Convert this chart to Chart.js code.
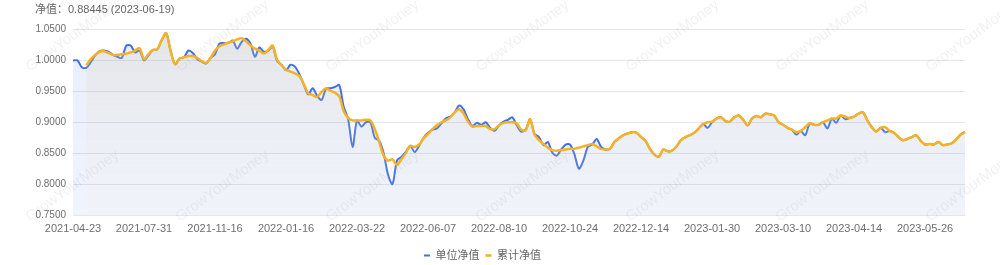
<!DOCTYPE html>
<html>
<head>
<meta charset="utf-8">
<script src="https://cdn.jsdelivr.net/npm/chart.js@4.4.1/dist/chart.umd.min.js"></script>
<style>
  body { margin: 0; background: #fff; }
  #wrap { position: relative; width: 1000px; height: 265px; }
  #title { position: absolute; left: 35px; top: 0; font: 11px 'Liberation Sans', 'Noto Sans CJK SC', sans-serif; line-height: 18px; color: #666; }
</style>
</head>
<body>
<div id="wrap">
  <canvas id="navChart"></canvas>
  <div id="title">净值：0.88445 (2023-06-19)</div>
</div>
<script>
// x axis tick labels, one every 16 points
const tickLabels = ['2021-04-23', '2021-07-31', '2021-11-16', '2022-01-16', '2022-03-22', '2022-06-07',
  '2022-08-10', '2022-10-24', '2022-12-14', '2023-01-30', '2023-03-10', '2023-04-14', '2023-05-26'];
const tickStep = 16;

// 单位净值
const unitNav = [
  1.000, 1.000, 0.989, 0.988, 0.997, 1.008, 1.015, 1.016, 1.014, 1.009,
  1.006, 1.004, 1.024, 1.024, 1.013, 1.016, 1.000, 1.008, 1.017, 1.018,
  1.033, 1.044, 1.015, 0.994, 1.003, 1.005, 1.016, 1.012, 1.002, 0.998,
  0.995, 1.004, 1.010, 1.027, 1.028, 1.028, 1.032, 1.019, 1.030, 1.035,
  1.027, 1.006, 1.021, 1.014, 1.016, 1.022, 0.999, 0.993, 0.984, 0.993,
  0.990, 0.978, 0.961, 0.945, 0.955, 0.943, 0.936, 0.954, 0.955, 0.957,
  0.960, 0.925, 0.905, 0.860, 0.903, 0.893, 0.900, 0.900, 0.875, 0.870,
  0.850, 0.815, 0.800, 0.838, 0.844, 0.852, 0.862, 0.852, 0.862, 0.875,
  0.883, 0.888, 0.890, 0.898, 0.906, 0.909, 0.916, 0.927, 0.921, 0.905,
  0.894, 0.899, 0.896, 0.900, 0.891, 0.886, 0.895, 0.901, 0.904, 0.908,
  0.895, 0.885, 0.888, 0.905, 0.881, 0.876, 0.863, 0.868, 0.851, 0.846,
  0.856, 0.864, 0.864, 0.848, 0.825, 0.838, 0.860, 0.864, 0.873, 0.860,
  0.856, 0.857, 0.868, 0.874, 0.879, 0.882, 0.884, 0.883, 0.876, 0.870,
  0.857, 0.848, 0.844, 0.856, 0.853, 0.854, 0.861, 0.871, 0.876, 0.879,
  0.883, 0.890, 0.897, 0.891, 0.900, 0.906, 0.908, 0.902, 0.901, 0.908,
  0.911, 0.904, 0.895, 0.906, 0.910, 0.908, 0.914, 0.913, 0.911, 0.900,
  0.896, 0.891, 0.888, 0.880, 0.886, 0.879, 0.898, 0.896, 0.896, 0.900,
  0.890, 0.906, 0.899, 0.911, 0.905, 0.907, 0.909, 0.914, 0.916, 0.903,
  0.892, 0.885, 0.891, 0.884, 0.886, 0.883, 0.876, 0.871, 0.873, 0.876,
  0.879, 0.870, 0.864, 0.865, 0.864, 0.868, 0.863, 0.864, 0.866, 0.872,
  0.880, 0.884
];

// 累计净值
const accNav = [
  null, null, null, 0.992, 1.002, 1.009, 1.014, 1.015, 1.012, 1.009,
  1.009, 1.010, 1.011, 1.013, 1.016, 1.020, 1.002, 1.010, 1.017, 1.018,
  1.033, 1.044, 1.015, 0.994, 1.003, 1.005, 1.007, 1.007, 1.004, 0.999,
  0.996, 1.004, 1.016, 1.023, 1.026, 1.029, 1.031, 1.034, 1.036, 1.031,
  1.024, 1.019, 1.016, 1.011, 1.017, 1.024, 1.001, 0.992, 0.985, 0.982,
  0.979, 0.975, 0.962, 0.947, 0.944, 0.941, 0.949, 0.955, 0.951, 0.948,
  0.942, 0.918, 0.907, 0.903, 0.903, 0.903, 0.904, 0.903, 0.889, 0.868,
  0.846, 0.838, 0.840, 0.831, 0.840, 0.850, 0.862, 0.860, 0.864, 0.874,
  0.881, 0.889, 0.895, 0.900, 0.903, 0.908, 0.916, 0.921, 0.914, 0.901,
  0.893, 0.894, 0.894, 0.894, 0.889, 0.889, 0.895, 0.899, 0.900, 0.900,
  0.898, 0.888, 0.887, 0.905, 0.880, 0.871, 0.865, 0.859, 0.855, 0.854,
  0.855, 0.856, 0.857, 0.857, 0.859, 0.861, 0.863, 0.865, 0.861, 0.857,
  0.856, 0.857, 0.868, 0.874, 0.879, 0.882, 0.884, 0.883, 0.876, 0.870,
  0.857, 0.848, 0.844, 0.856, 0.853, 0.854, 0.861, 0.871, 0.876, 0.879,
  0.883, 0.890, 0.897, 0.900, 0.901, 0.906, 0.908, 0.902, 0.901, 0.908,
  0.911, 0.904, 0.895, 0.906, 0.910, 0.908, 0.914, 0.913, 0.911, 0.900,
  0.896, 0.891, 0.888, 0.884, 0.886, 0.892, 0.898, 0.896, 0.896, 0.900,
  0.903, 0.906, 0.906, 0.911, 0.909, 0.907, 0.909, 0.914, 0.916, 0.903,
  0.892, 0.885, 0.891, 0.892, 0.886, 0.883, 0.876, 0.871, 0.873, 0.876,
  0.879, 0.870, 0.864, 0.865, 0.864, 0.868, 0.863, 0.864, 0.866, 0.872,
  0.880, 0.884
];

const labels = unitNav.map(function(v, i) {
  return i % tickStep === 0 ? (tickLabels[i / tickStep] || '') : '';
});

const fontFamily = "'Liberation Sans', 'Noto Sans CJK SC', sans-serif";

function areaFill(top, bottom) {
  return function(context) {
    const chart = context.chart;
    const area = chart.chartArea;
    if (!area) return top;
    const g = chart.ctx.createLinearGradient(0, area.top, 0, area.bottom);
    g.addColorStop(0, top);
    g.addColorStop(1, bottom);
    return g;
  };
}

// faint repeated watermark
const watermark = {
  id: 'watermark',
  beforeDatasetsDraw: function(chart) {
    const ctx = chart.ctx;
    ctx.save();
    ctx.font = '15px ' + fontFamily;
    ctx.fillStyle = 'rgba(0, 0, 0, 0.06)';
    ctx.textBaseline = 'alphabetic';
    [72, 222].forEach(function(y) {
      for (let x = 30; x < 1000; x += 150) {
        ctx.save();
        ctx.translate(x, y);
        ctx.rotate(-36 * Math.PI / 180);
        ctx.fillText('GrowYourMoney', 0, 0);
        ctx.restore();
      }
    });
    ctx.restore();
  }
};

const ctx = document.getElementById('navChart').getContext('2d');
const navChart = new Chart(ctx, {
  type: 'line',
  data: {
    labels: labels,
    datasets: [{
      label: '单位净值',
      data: unitNav,
      borderColor: '#4170e8',
      borderWidth: 2,
      backgroundColor: areaFill('rgba(64, 115, 230, 0.12)', 'rgba(64, 115, 230, 0.08)'),
      fill: 'start',
      pointRadius: 0,
      tension: 0.3,
      order: 1
    }, {
      label: '累计净值',
      data: accNav,
      borderColor: '#f5b324',
      borderWidth: 2.5,
      backgroundColor: areaFill('rgba(215, 195, 150, 0.22)', 'rgba(240, 235, 220, 0.05)'),
      fill: 'start',
      pointRadius: 0,
      tension: 0.3,
      order: 0
    }]
  },
  options: {
    responsive: true,
    maintainAspectRatio: false,
    animation: false,
    layout: {
      padding: { top: 29.5, left: 0, right: 35, bottom: -6 }
    },
    scales: {
      x: {
        grid: { display: false, drawTicks: false },
        border: { display: false },
        afterFit: function(scale) { scale.height = 29; },
        ticks: {
          autoSkip: false,
          maxRotation: 0,
          padding: 7,
          color: '#6e6e6e',
          font: { size: 11, family: fontFamily }
        }
      },
      y: {
        min: 0.75,
        max: 1.05,
        afterFit: function(scale) { scale.width = 73; },
        grid: { color: '#e6e6e6', drawTicks: false },
        border: { display: false },
        ticks: {
          stepSize: 0.05,
          padding: 7,
          color: '#6e6e6e',
          font: { size: 10, family: fontFamily },
          callback: function(value) { return value.toFixed(4); }
        }
      }
    },
    plugins: {
      legend: {
        position: 'bottom',
        labels: {
          usePointStyle: true,
          pointStyle: 'line',
          pointStyleWidth: 6,
          boxHeight: 6,
          padding: 6,
          color: '#666',
          font: { size: 11, family: fontFamily },
          sort: function(a, b) { return a.datasetIndex - b.datasetIndex; }
        }
      },
      tooltip: { enabled: false }
    }
  },
  plugins: [watermark]
});
</script>
</body>
</html>
